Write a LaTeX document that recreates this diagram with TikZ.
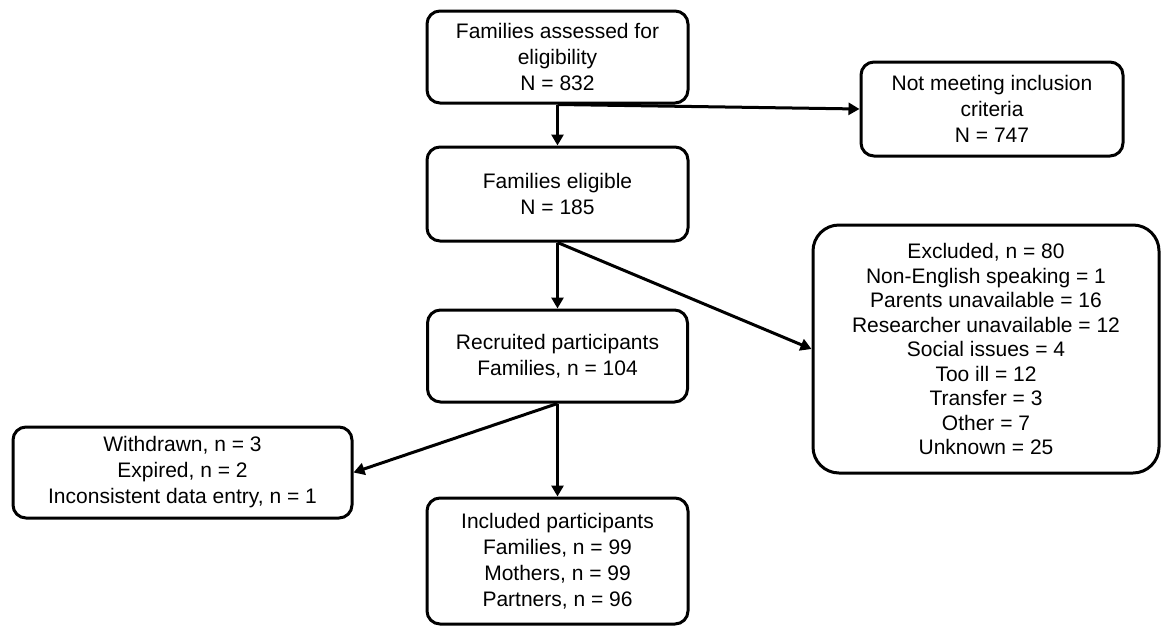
\documentclass[tikz,border=0pt]{standalone}
\usepackage{fontspec}
\setmainfont{Liberation Sans}
\usetikzlibrary{arrows.meta}
\begin{document}
\begin{tikzpicture}[x=1pt,y=-1pt,
  box/.style={draw=black, line width=3pt, rounded corners=13pt, align=center,
    inner sep=0pt, font=\fontsize{21}{26}\selectfont},
  bigbox/.style={box, rounded corners=26pt, font=\fontsize{21}{24.5}\selectfont},
  flow/.style={line width=3pt, -{Triangle[length=11pt,width=12pt]}}]
\useasboundingbox (0,0) rectangle (1161,627);

% flow stages
\node[box, minimum width=261pt, minimum height=92pt] (assessed) at (557.5,57)
  {Families assessed for\\eligibility\\N = 832};
\node[box, minimum width=262pt, minimum height=94pt] (notmeet) at (992,109)
  {Not meeting inclusion\\criteria\\N = 747};
\node[box, minimum width=261pt, minimum height=94pt] (eligible) at (557.5,194)
  {Families eligible\\N = 185};
\node[bigbox, minimum width=346pt, minimum height=248pt] (excluded) at (986,349)
  {Excluded, n = 80\\Non-English speaking = 1\\Parents unavailable = 16\\Researcher unavailable = 12\\Social issues = 4\\Too ill = 12\\Transfer = 3\\Other = 7\\Unknown = 25};
\node[box, minimum width=260pt, minimum height=92pt] (recruited) at (557.5,356)
  {Recruited participants\\Families, n = 104};
\node[box, minimum width=339pt, minimum height=91pt] (withdrawn) at (182.5,472.5)
  {Withdrawn, n = 3\\Expired, n = 2\\Inconsistent data entry, n = 1};
\node[box, minimum width=261pt, minimum height=126pt] (included) at (557.5,561)
  {Included participants\\Families, n = 99\\Mothers, n = 99\\Partners, n = 96};

% connectors
\draw[flow] (assessed.south) -- (eligible.north);
\draw[flow] (assessed.south) -- (notmeet.west);
\draw[flow] (eligible.south) -- (recruited.north);
\draw[flow] (eligible.south) -- (excluded.west);
\draw[flow] (recruited.south) -- (included.north);
\draw[flow] (recruited.south) -- (withdrawn.east);
\end{tikzpicture}
\end{document}
